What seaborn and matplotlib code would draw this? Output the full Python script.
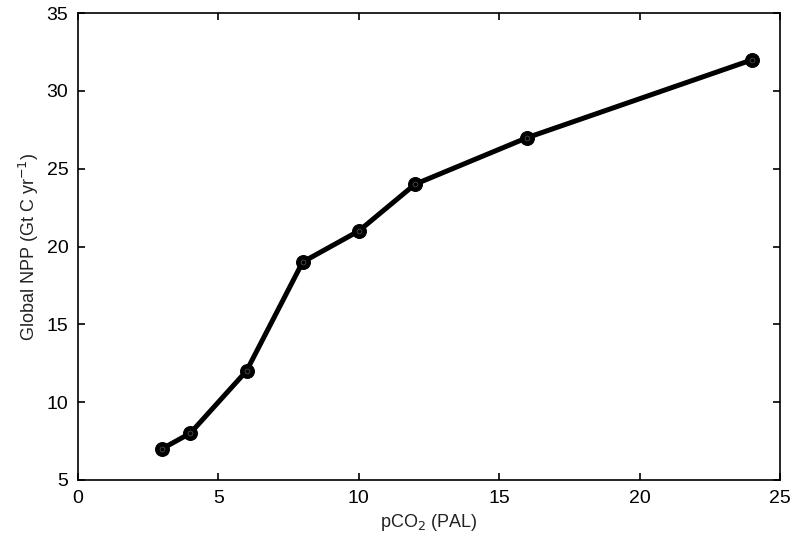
import matplotlib
matplotlib.use("Agg")
import matplotlib.pyplot as plt
import seaborn as sns
import pandas

# pCO2 (PAL) vs global NPP
pco2 = [3, 4, 6, 8, 10, 12, 16, 24]
npp = [7, 8, 12, 19, 21, 24, 27, 32]

df = pandas.DataFrame({'pco2': pco2, 'npp': npp})

sns.set_style('white')
plt.rcParams['font.family'] = ['Liberation Sans', 'DejaVu Sans']

fig = plt.figure(figsize=(7.96, 5.49), dpi=100)
ax = fig.add_axes([0.098, 0.126, 0.882, 0.850])

sns.lineplot(
    data=df, x='pco2', y='npp', ax=ax,
    color='black', linewidth=3.6,
    marker='o', markersize=10, markeredgecolor='black', markerfacecolor='black'
)
# faint inner ring like the original markers
ax.plot(df['pco2'], df['npp'], linestyle='none', marker='o', markersize=3.5,
        markerfacecolor='none', markeredgecolor='white', markeredgewidth=0.5, alpha=0.35)

ax.set_xlim(0, 25)
ax.set_ylim(5, 35)
ax.set_xticks([0, 5, 10, 15, 20, 25])
ax.set_yticks([5, 10, 15, 20, 25, 30, 35])

ax.tick_params(direction='in', length=5, width=1.2, labelsize=14,
               top=True, right=True, bottom=True, left=True, pad=7, colors='black')
for s in ax.spines.values():
    s.set_color('black')
    s.set_linewidth(1.2)

ax.set_xlabel('pCO$_2$ (PAL)', fontsize=13, color='#222222')
ax.set_ylabel('Global NPP (Gt C yr$^{-1}$)', fontsize=13, color='#222222')

fig.savefig('out.png', dpi=100)
